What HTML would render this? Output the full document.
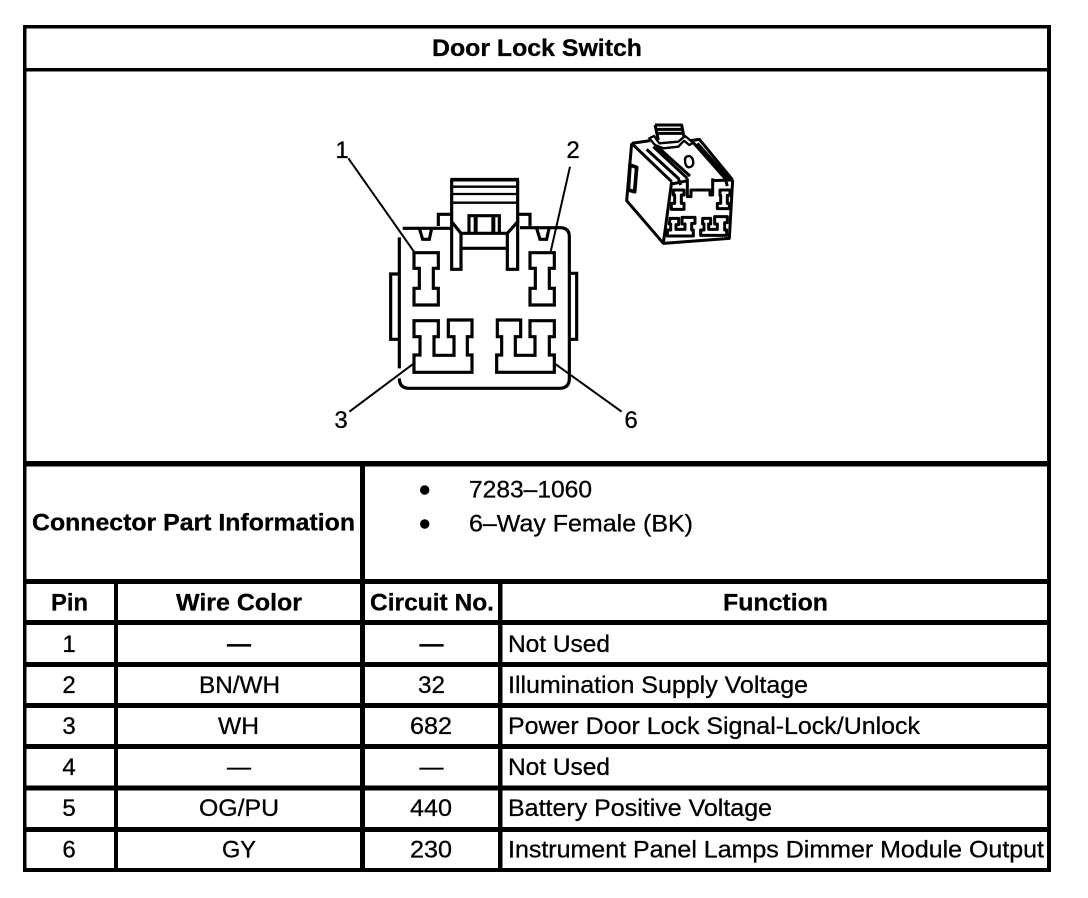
<!DOCTYPE html>
<html><head><meta charset="utf-8"><title>Door Lock Switch</title>
<style>
html,body{margin:0;padding:0;background:#fff;width:1088px;height:898px;overflow:hidden}
svg{display:block}
text{font-family:"Liberation Sans",Arial,sans-serif;font-size:24px;fill:#000;stroke:#000;stroke-width:.3px}
.b{font-weight:bold}
.m{text-anchor:middle}
</style></head>
<body>
<svg xmlns="http://www.w3.org/2000/svg" width="1088" height="898" viewBox="0 0 1088 898">
<rect width="1088" height="898" fill="#fff"/>
<!-- table frame -->
<g fill="#000">
<rect x="23" y="25" width="1028" height="3.5"/>
<rect x="23" y="68" width="1028" height="3.5"/>
<rect x="23" y="461" width="1028" height="5.5"/>
<rect x="23" y="579" width="1028" height="5"/>
<rect x="23" y="620" width="1028" height="5"/>
<rect x="23" y="662" width="1028" height="5"/>
<rect x="23" y="703" width="1028" height="5"/>
<rect x="23" y="744" width="1028" height="5"/>
<rect x="23" y="785.500" width="1028" height="5"/>
<rect x="23" y="827" width="1028" height="5"/>
<rect x="23" y="868" width="1028" height="4"/>
<rect x="23" y="25" width="3.5" height="847"/>
<rect x="1047" y="25" width="4" height="847"/>
<rect x="114" y="580" width="4" height="292"/>
<rect x="360" y="462" width="5" height="410"/>
<rect x="498" y="580" width="4.500" height="292"/>
<circle cx="424.700" cy="490" r="4.700"/>
<circle cx="424.700" cy="524" r="4.700"/>
</g>
<!-- text -->
<text x="432" y="56" class="b" textLength="210" lengthAdjust="spacingAndGlyphs">Door Lock Switch</text>
<text x="32" y="530.500" class="b" textLength="323" lengthAdjust="spacingAndGlyphs">Connector Part Information</text>
<text x="469" y="497.500" textLength="123" lengthAdjust="spacingAndGlyphs">7283–1060</text>
<text x="469" y="531.500" textLength="224" lengthAdjust="spacingAndGlyphs">6–Way Female (BK)</text>
<text x="51" y="610.500" class="b" textLength="37" lengthAdjust="spacingAndGlyphs">Pin</text>
<text x="176" y="610.500" class="b" textLength="126" lengthAdjust="spacingAndGlyphs">Wire Color</text>
<text x="370" y="610.500" class="b" textLength="124" lengthAdjust="spacingAndGlyphs">Circuit No.</text>
<text x="723" y="610.500" class="b" textLength="105" lengthAdjust="spacingAndGlyphs">Function</text>
<text x="69" y="652" class="m">1</text>
<text x="69" y="693" class="m">2</text>
<text x="69" y="734" class="m">3</text>
<text x="69" y="775" class="m">4</text>
<text x="69" y="816" class="m">5</text>
<text x="69" y="857.500" class="m">6</text>
<text x="239" y="652" class="m b">—</text>
<text x="431.500" y="652" class="m b">—</text>
<text x="239" y="775" class="m">—</text>
<text x="431.500" y="775" class="m">—</text>
<text x="418" y="693" textLength="27" lengthAdjust="spacingAndGlyphs">32</text>
<text x="410" y="734" textLength="42" lengthAdjust="spacingAndGlyphs">682</text>
<text x="410" y="816" textLength="42" lengthAdjust="spacingAndGlyphs">440</text>
<text x="410" y="857.500" textLength="42" lengthAdjust="spacingAndGlyphs">230</text>
<text x="199" y="693" textLength="81" lengthAdjust="spacingAndGlyphs">BN/WH</text>
<text x="218" y="734" textLength="41" lengthAdjust="spacingAndGlyphs">WH</text>
<text x="199" y="816" textLength="80" lengthAdjust="spacingAndGlyphs">OG/PU</text>
<text x="222" y="857.500" textLength="34" lengthAdjust="spacingAndGlyphs">GY</text>
<text x="508" y="652" textLength="102" lengthAdjust="spacingAndGlyphs">Not Used</text>
<text x="508" y="693" textLength="300" lengthAdjust="spacingAndGlyphs">Illumination Supply Voltage</text>
<text x="508" y="734" textLength="412" lengthAdjust="spacingAndGlyphs">Power Door Lock Signal-Lock/Unlock</text>
<text x="508" y="775" textLength="102" lengthAdjust="spacingAndGlyphs">Not Used</text>
<text x="508" y="816" textLength="264" lengthAdjust="spacingAndGlyphs">Battery Positive Voltage</text>
<text x="508" y="857.500" textLength="536" lengthAdjust="spacingAndGlyphs">Instrument Panel Lamps Dimmer Module Output</text>
<!-- pin labels -->
<text x="342" y="158" class="m">1</text>
<text x="573" y="158" class="m">2</text>
<text x="341" y="428" class="m">3</text>
<text x="631" y="428" class="m">6</text>
<!-- connector face -->
<g transform="translate(320 120) scale(.33333)" fill="none" stroke="#000" stroke-width="9.5" stroke-linejoin="miter">
<path d="M238,352V745"/>
<path d="M238,775Q238,805 268,805H718Q748,805 748,775V350Q748,323 720,323H600"/>
<path d="M248,325H392"/>
<path d="M238,462H212V658H238M748,460H770V658H748"/>
<path d="M395,200H593M395,222H593M395,248H593" stroke-width="7"/>
<path d="M395,180V310M593,180V310"/>
<path d="M391,179H597" stroke-width="11"/>
<path d="M355,318V283H395M593,283H630V318"/>
<path d="M447,340V287H538V340"/>
<path d="M467,290V338M520,290V338" stroke-width="12"/>
<path d="M425,340H560M425,385H560"/>
<path d="M395,305L423,340V448H395ZM593,305L562,340V448H593Z"/>
<path d="M298,325L308,358H328L335,325M650,325L660,358H680L687,325"/>
<path d="M282,398H355V445H340V505H355V555H282V505H298V445H282Z"/>
<path d="M630,398H703V445H688V505H703V555H630V505H646V445H630Z"/>
<path d="M282,602H355V650H342V706H402V650H385V600H456V650H442V705H456V757H282V705H300V650H282Z"/>
<path d="M532,600H602V650H586V706H645V650H630V602H703V650H688V705H703V757H530V705H545V650H532Z"/>
<path d="M85,115L282,395M750,140L692,395M88,875L282,730M905,875L703,730" stroke-width="6"/>
</g>
<!-- isometric connector -->
<g transform="translate(610 110) scale(.33333)" fill="none" stroke="#000" stroke-width="9" stroke-linejoin="round">
<path d="M65,100L50,272L160,400L358,385L368,210"/>
<path d="M65,100L185,215"/>
<path d="M185,215L160,400"/>
<path d="M185,222L232,212M308,212L368,210"/>
<path d="M60,165L80,172L74,245L55,240Z" stroke-width="11"/>
<path d="M65,100L120,92M240,92L268,88L368,210"/>
<path d="M135,45H215L222,82M135,45L145,90M140,58H218M142,70H220" stroke-width="9"/>
<path d="M118,85L132,78L148,100L205,95L225,78L250,98L238,105L222,92L205,110L160,115L135,105Z" stroke-width="7"/>
<path d="M110,118L205,205L212,225M130,110L232,205M140,108L240,198"/>
<path d="M250,98L345,205L352,228M262,100L360,210M232,205L232,260H243V240H300V255H308V205"/>
<path d="M225,150Q225,138 238,138Q250,142 250,160Q248,172 235,172Q225,168 225,150Z" stroke-width="7"/>
<path d="M190,240H222V255H214V280H222V298H184V280H194V255H190Z"/>
<path d="M330,240H360V256H352V280H358V296H322V280H332V256H330Z"/>
<path d="M180,325H206V344H198V358H225V342H216V322H255V340H245V360H250V378H172V360H182V342H178Z"/>
<path d="M278,325H302V342H296V358H322V342H314V320H352V338H344V360H350V376H272V360H282V342H278Z"/>
</g>
</svg>
</body></html>
